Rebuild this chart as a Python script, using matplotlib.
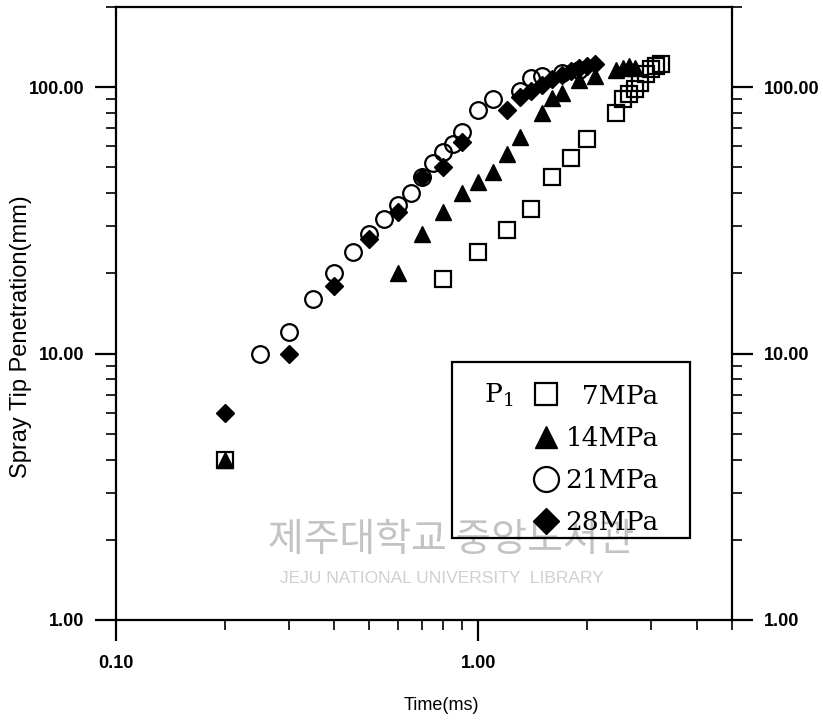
import numpy as np
import matplotlib
matplotlib.use('Agg')
import matplotlib.pyplot as plt
import matplotlib as mpl
from matplotlib.ticker import LogLocator, FormatStrFormatter, NullFormatter
from matplotlib.patches import Rectangle

mpl.rcParams['font.family'] = ['Liberation Sans', 'DejaVu Sans']
mpl.rcParams['axes.linewidth'] = 1.6

'''Data (read off the picture)'''
# 7 MPa
t_7 = [0.2, 0.8, 1.0, 1.2, 1.4, 1.6, 1.8, 2.0, 2.4, 2.5, 2.6, 2.7, 2.8, 2.9, 3.0, 3.1, 3.2]
s_7 = [4.0, 19, 24, 29, 35, 46, 54, 64, 80, 90, 94, 98, 104, 112, 117, 120, 122]
# 14 MPa
t_14 = [0.2, 0.6, 0.7, 0.8, 0.9, 1.0, 1.1, 1.2, 1.3, 1.5, 1.6, 1.7, 1.9, 2.1, 2.4, 2.5, 2.6, 2.7]
s_14 = [4.0, 20, 28, 34, 40, 44, 48, 56, 65, 80, 91, 95, 106, 110, 116, 118, 120, 118]
# 21 MPa
t_21 = [0.25, 0.3, 0.35, 0.4, 0.45, 0.5, 0.55, 0.6, 0.65, 0.7, 0.75, 0.8, 0.85, 0.9,
        1.0, 1.1, 1.3, 1.4, 1.5, 1.7, 1.9]
s_21 = [10, 12, 16, 20, 24, 28, 32, 36, 40, 46, 52, 57, 61, 68, 82, 90, 97, 108, 110, 113, 116]
# 28 MPa
t_28 = [0.2, 0.3, 0.4, 0.5, 0.6, 0.7, 0.8, 0.9, 1.2, 1.3, 1.4, 1.5, 1.6, 1.7, 1.8, 1.9, 2.0, 2.1]
s_28 = [6, 10, 18, 27, 34, 46, 50, 62, 82, 92, 97, 102, 107, 111, 115, 118, 120, 122]

labels = ['  7MPa', '14MPa', '21MPa', '28MPa']

fig = plt.figure(figsize=(8.23, 7.23), dpi=100)
ax = fig.add_axes([0.141, 0.1425, 0.748, 0.848])

ax.plot(t_7, s_7, ls='none', marker='s', ms=11, mfc='none', mec='k', mew=1.6, label=labels[0])
ax.plot(t_14, s_14, ls='none', marker='^', ms=11, mfc='k', mec='k', label=labels[1])
ax.plot(t_21, s_21, ls='none', marker='o', ms=12, mfc='none', mec='k', mew=1.6, label=labels[2])
ax.plot(t_28, s_28, ls='none', marker='D', ms=9, mfc='k', mec='k', label=labels[3])

ax.set_xscale('log')
ax.set_yscale('log')
ax.set_xlim(0.1, 5)
ax.set_ylim(1, 200)

ax.xaxis.set_major_locator(LogLocator(base=10, numticks=5))
ax.yaxis.set_major_locator(LogLocator(base=10, numticks=5))
ax.xaxis.set_minor_locator(LogLocator(base=10, subs=np.arange(2, 10), numticks=20))
ax.yaxis.set_minor_locator(LogLocator(base=10, subs=np.arange(2, 10), numticks=20))
ax.xaxis.set_major_formatter(FormatStrFormatter('%.2f'))
ax.yaxis.set_major_formatter(FormatStrFormatter('%.2f'))
ax.xaxis.set_minor_formatter(NullFormatter())
ax.yaxis.set_minor_formatter(NullFormatter())

ax.tick_params(which='both', direction='out', top=False, right=True, labelright=True)
ax.tick_params(which='major', length=15, width=1.6, labelsize=13, pad=8)
ax.tick_params(which='minor', length=7, width=1.2)
ax.tick_params(axis='x', which='major', pad=10)
for t in ax.xaxis.get_major_ticks() + ax.yaxis.get_major_ticks():
    t.label1.set_fontweight('bold')
    t.label2.set_fontweight('bold')

ax.set_xlabel('Time(ms)', fontsize=13)
ax.set_ylabel('Spray Tip Penetration(mm)', fontsize=17)
ax.xaxis.set_label_coords(0.529, -0.126)
ax.yaxis.set_label_coords(-0.137, 0.462)

# legend box
ax.add_patch(Rectangle((0.545, 0.134), 0.388, 0.287, transform=ax.transAxes,
                       fill=False, ec='k', lw=1.6, zorder=5))
leg = ax.legend(loc='upper left', bbox_to_anchor=(0.655, 0.407), frameon=False,
                prop={'family': 'DejaVu Serif', 'size': 19},
                handlelength=1.0, handletextpad=0.25, labelspacing=0.65,
                borderpad=0.0, markerscale=1.5)
ax.text(0.598, 0.367, r'P$_\mathregular{1}$', transform=ax.transAxes,
        family='DejaVu Serif', fontsize=19, va='center', ha='left')

# watermark
ax.text(0.545, 0.131, '제주대학교 중앙도서관', transform=ax.transAxes,
        family=['Noto Sans CJK KR', 'DejaVu Sans'], fontsize=28, color='#b4b4b4',
        ha='center', va='center', alpha=0.8, zorder=0)
ax.text(0.53, 0.068, 'JEJU NATIONAL UNIVERSITY  LIBRARY', transform=ax.transAxes,
        fontsize=12.5, color='#d0d0d0', ha='center', va='center', zorder=0)

fig.savefig('out.png', dpi=100)
